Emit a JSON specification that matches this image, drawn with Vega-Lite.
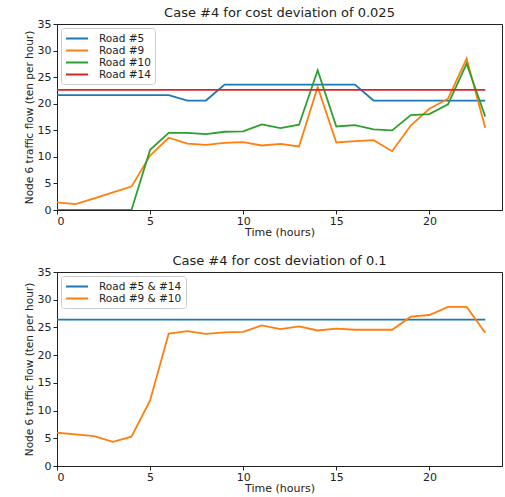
{
  "$schema": "https://vega.github.io/schema/vega-lite/v6.json",
  "padding": {"left": 23, "top": 6, "right": 0, "bottom": 0},
  "background": "white",
  "config": {
    "font": "DejaVu Sans",
    "view": {"stroke": "#222", "strokeWidth": 1},
    "axis": {"grid": false, "domainColor": "#222", "tickColor": "#222", "labelColor": "#222", "titleColor": "#222", "labelFont": "DejaVu Sans", "titleFont": "DejaVu Sans", "labelFontSize": 11, "titleFontSize": 11, "titleFontWeight": "normal", "tickSize": 4, "labelPadding": 1, "titlePadding": 0, "domainWidth": 1},
    "axisY": {"titleFontSize": 10.5, "titlePadding": 3, "labelPadding": 2},
    "title": {"font": "DejaVu Sans", "fontSize": 13, "fontWeight": "normal", "color": "#222", "offset": -2},
    "legend": {"orient": "top-left", "offset": 4, "fillColor": "white", "strokeColor": "#ccc", "padding": 4, "cornerRadius": 3, "symbolType": "M-1,0H3", "symbolSize": 121, "symbolStrokeWidth": 2, "labelFontSize": 10.5, "labelFont": "DejaVu Sans", "labelColor": "#222", "rowPadding": -2, "labelOffset": 21},
    "concat": {"spacing": 16}
  },
  "datasets": {
    "top": [
      {"hour": 0, "road": "Road #5", "flow": 21.6}, {"hour": 1, "road": "Road #5", "flow": 21.6}, {"hour": 2, "road": "Road #5", "flow": 21.6}, {"hour": 3, "road": "Road #5", "flow": 21.6}, {"hour": 4, "road": "Road #5", "flow": 21.6}, {"hour": 5, "road": "Road #5", "flow": 21.6}, {"hour": 6, "road": "Road #5", "flow": 21.6}, {"hour": 7, "road": "Road #5", "flow": 20.6}, {"hour": 8, "road": "Road #5", "flow": 20.6}, {"hour": 9, "road": "Road #5", "flow": 23.6}, {"hour": 10, "road": "Road #5", "flow": 23.6}, {"hour": 11, "road": "Road #5", "flow": 23.6}, {"hour": 12, "road": "Road #5", "flow": 23.6}, {"hour": 13, "road": "Road #5", "flow": 23.6}, {"hour": 14, "road": "Road #5", "flow": 23.6}, {"hour": 15, "road": "Road #5", "flow": 23.6}, {"hour": 16, "road": "Road #5", "flow": 23.6}, {"hour": 17, "road": "Road #5", "flow": 20.6}, {"hour": 18, "road": "Road #5", "flow": 20.6}, {"hour": 19, "road": "Road #5", "flow": 20.6}, {"hour": 20, "road": "Road #5", "flow": 20.6}, {"hour": 21, "road": "Road #5", "flow": 20.6}, {"hour": 22, "road": "Road #5", "flow": 20.6}, {"hour": 23, "road": "Road #5", "flow": 20.6},
      {"hour": 0, "road": "Road #9", "flow": 1.45}, {"hour": 1, "road": "Road #9", "flow": 1.1}, {"hour": 2, "road": "Road #9", "flow": 2.2}, {"hour": 3, "road": "Road #9", "flow": 3.3}, {"hour": 4, "road": "Road #9", "flow": 4.4}, {"hour": 5, "road": "Road #9", "flow": 10.25}, {"hour": 6, "road": "Road #9", "flow": 13.6}, {"hour": 7, "road": "Road #9", "flow": 12.5}, {"hour": 8, "road": "Road #9", "flow": 12.26}, {"hour": 9, "road": "Road #9", "flow": 12.64}, {"hour": 10, "road": "Road #9", "flow": 12.77}, {"hour": 11, "road": "Road #9", "flow": 12.14}, {"hour": 12, "road": "Road #9", "flow": 12.45}, {"hour": 13, "road": "Road #9", "flow": 11.95}, {"hour": 14, "road": "Road #9", "flow": 23.14}, {"hour": 15, "road": "Road #9", "flow": 12.7}, {"hour": 16, "road": "Road #9", "flow": 12.96}, {"hour": 17, "road": "Road #9", "flow": 13.14}, {"hour": 18, "road": "Road #9", "flow": 11.07}, {"hour": 19, "road": "Road #9", "flow": 15.9}, {"hour": 20, "road": "Road #9", "flow": 19.06}, {"hour": 21, "road": "Road #9", "flow": 20.94}, {"hour": 22, "road": "Road #9", "flow": 28.49}, {"hour": 23, "road": "Road #9", "flow": 15.47},
      {"hour": 0, "road": "Road #10", "flow": 0}, {"hour": 1, "road": "Road #10", "flow": 0}, {"hour": 2, "road": "Road #10", "flow": 0}, {"hour": 3, "road": "Road #10", "flow": 0}, {"hour": 4, "road": "Road #10", "flow": 0}, {"hour": 5, "road": "Road #10", "flow": 11.32}, {"hour": 6, "road": "Road #10", "flow": 14.53}, {"hour": 7, "road": "Road #10", "flow": 14.53}, {"hour": 8, "road": "Road #10", "flow": 14.28}, {"hour": 9, "road": "Road #10", "flow": 14.72}, {"hour": 10, "road": "Road #10", "flow": 14.78}, {"hour": 11, "road": "Road #10", "flow": 16.1}, {"hour": 12, "road": "Road #10", "flow": 15.4}, {"hour": 13, "road": "Road #10", "flow": 16.04}, {"hour": 14, "road": "Road #10", "flow": 26.29}, {"hour": 15, "road": "Road #10", "flow": 15.72}, {"hour": 16, "road": "Road #10", "flow": 15.97}, {"hour": 17, "road": "Road #10", "flow": 15.16}, {"hour": 18, "road": "Road #10", "flow": 14.97}, {"hour": 19, "road": "Road #10", "flow": 17.86}, {"hour": 20, "road": "Road #10", "flow": 18.05}, {"hour": 21, "road": "Road #10", "flow": 19.87}, {"hour": 22, "road": "Road #10", "flow": 27.55}, {"hour": 23, "road": "Road #10", "flow": 17.6},
      {"hour": 0, "road": "Road #14", "flow": 22.6}, {"hour": 23, "road": "Road #14", "flow": 22.6}
    ],
    "bottom": [
      {"hour": 0, "road": "Road #5 & #14", "flow": 26.4}, {"hour": 23, "road": "Road #5 & #14", "flow": 26.4},
      {"hour": 0, "road": "Road #9 & #10", "flow": 6.0}, {"hour": 1, "road": "Road #9 & #10", "flow": 5.7}, {"hour": 2, "road": "Road #9 & #10", "flow": 5.4}, {"hour": 3, "road": "Road #9 & #10", "flow": 4.37}, {"hour": 4, "road": "Road #9 & #10", "flow": 5.28}, {"hour": 5, "road": "Road #9 & #10", "flow": 11.83}, {"hour": 6, "road": "Road #9 & #10", "flow": 23.9}, {"hour": 7, "road": "Road #9 & #10", "flow": 24.33}, {"hour": 8, "road": "Road #9 & #10", "flow": 23.85}, {"hour": 9, "road": "Road #9 & #10", "flow": 24.09}, {"hour": 10, "road": "Road #9 & #10", "flow": 24.2}, {"hour": 11, "road": "Road #9 & #10", "flow": 25.36}, {"hour": 12, "road": "Road #9 & #10", "flow": 24.7}, {"hour": 13, "road": "Road #9 & #10", "flow": 25.18}, {"hour": 14, "road": "Road #9 & #10", "flow": 24.45}, {"hour": 15, "road": "Road #9 & #10", "flow": 24.8}, {"hour": 16, "road": "Road #9 & #10", "flow": 24.58}, {"hour": 17, "road": "Road #9 & #10", "flow": 24.58}, {"hour": 18, "road": "Road #9 & #10", "flow": 24.58}, {"hour": 19, "road": "Road #9 & #10", "flow": 26.94}, {"hour": 20, "road": "Road #9 & #10", "flow": 27.24}, {"hour": 21, "road": "Road #9 & #10", "flow": 28.7}, {"hour": 22, "road": "Road #9 & #10", "flow": 28.7}, {"hour": 23, "road": "Road #9 & #10", "flow": 24.03}
    ]
  },
  "resolve": {"scale": {"color": "independent"}, "legend": {"color": "independent"}},
  "vconcat": [
    {
      "title": "Case #4 for cost deviation of 0.025",
      "width": 445, "height": 186,
      "data": {"name": "top"},
      "mark": {"type": "line", "strokeWidth": 1.8, "clip": true},
      "encoding": {
        "x": {"field": "hour", "type": "quantitative", "scale": {"domain": [0, 23.9], "nice": false, "zero": false}, "axis": {"values": [0, 5, 10, 15, 20], "title": "Time (hours)"}},
        "y": {"field": "flow", "type": "quantitative", "scale": {"domain": [0, 35], "nice": false}, "axis": {"values": [0, 5, 10, 15, 20, 25, 30, 35], "title": "Node 6 traffic flow (ten per hour)"}},
        "color": {"field": "road", "type": "nominal", "scale": {"domain": ["Road #5", "Road #9", "Road #10", "Road #14"], "range": ["#1f77b4", "#ff7f0e", "#2ca02c", "#d62728"]}, "legend": {"title": null}},
        "order": {"field": "hour", "type": "quantitative"}
      }
    },
    {
      "title": "Case #4 for cost deviation of 0.1",
      "width": 445, "height": 194,
      "data": {"name": "bottom"},
      "mark": {"type": "line", "strokeWidth": 1.8, "clip": true},
      "encoding": {
        "x": {"field": "hour", "type": "quantitative", "scale": {"domain": [0, 23.9], "nice": false, "zero": false}, "axis": {"values": [0, 5, 10, 15, 20], "title": "Time (hours)"}},
        "y": {"field": "flow", "type": "quantitative", "scale": {"domain": [0, 35], "nice": false}, "axis": {"values": [0, 5, 10, 15, 20, 25, 30, 35], "title": "Node 6 traffic flow (ten per hour)"}},
        "color": {"field": "road", "type": "nominal", "scale": {"domain": ["Road #5 & #14", "Road #9 & #10"], "range": ["#1f77b4", "#ff7f0e"]}, "legend": {"title": null}},
        "order": {"field": "hour", "type": "quantitative"}
      }
    }
  ]
}
